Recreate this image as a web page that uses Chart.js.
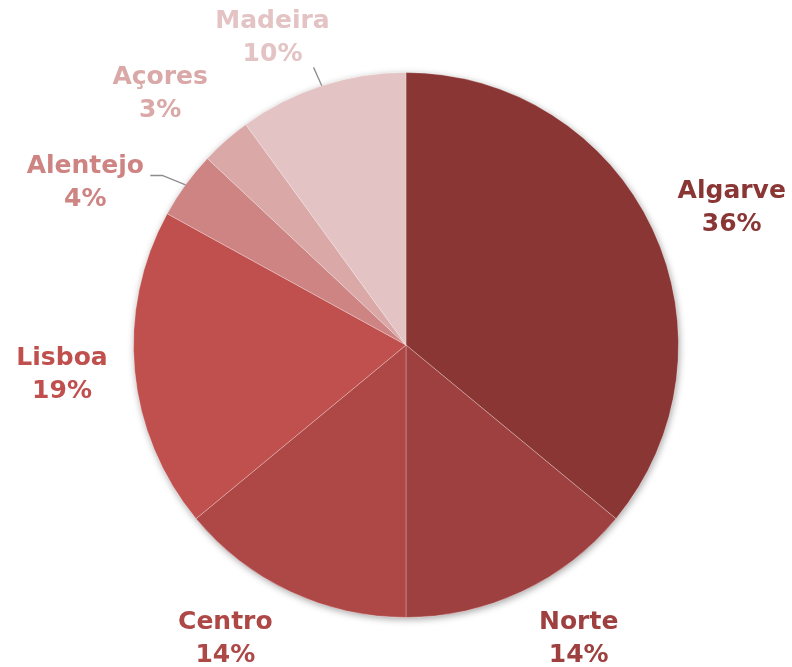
<!DOCTYPE html>
<html>
<head>
<meta charset="utf-8">
<script src="https://cdn.jsdelivr.net/npm/chart.js@4"></script>
<style>
  html, body { margin: 0; padding: 0; background: #fff; }
  #wrap { width: 792px; height: 667px; }
</style>
</head>
<body>
<div id="wrap"><canvas id="chartRegioes"></canvas></div>
<script>
// regiões e percentagens
const regioes = ["Algarve", "Norte", "Centro", "Lisboa", "Alentejo", "Açores", "Madeira"];
const percentagens = [36, 14, 14, 19, 4, 3, 10];
const cores = ["#8a3635", "#9f4040", "#ae4847", "#c0504d", "#cd8482", "#d9a8a7", "#e3c3c4"];

// pequenos ajustes dos rótulos (px) em relação à posição radial
const ajusteRotulo = [[14, 9], [26, -18], [-34, -18], [-1, -3], [-42, 40], [-18, 7], [-27, 20]];
// linhas de ligação: índice -> pontos relativos ao centro do rótulo
const linhas = {
  4: [[77, -7], [65, -7]],
  6: [[41, 30]]
};

const sombra = {
  id: "sombra",
  beforeDatasetsDraw(chart) {
    const arc = chart.getDatasetMeta(0).data[0];
    const ctx = chart.ctx;
    ctx.save();
    ctx.beginPath();
    ctx.arc(arc.x, arc.y, arc.outerRadius, 0, Math.PI * 2);
    ctx.shadowColor = "rgba(0,0,0,0.35)";
    ctx.shadowBlur = 7;
    ctx.shadowOffsetX = 1;
    ctx.shadowOffsetY = 2;
    ctx.fillStyle = "#fff";
    ctx.fill();
    ctx.restore();
  }
};

const rotulos = {
  id: "rotulos",
  afterDatasetsDraw(chart) {
    const ctx = chart.ctx;
    const meta = chart.getDatasetMeta(0);
    ctx.save();
    ctx.font = "bold 25px 'DejaVu Sans', Verdana, sans-serif";
    ctx.textAlign = "center";
    ctx.textBaseline = "middle";
    meta.data.forEach((arc, i) => {
      const mid = (arc.startAngle + arc.endAngle) / 2;
      const d = arc.outerRadius + 72;
      const lx = arc.x + Math.cos(mid) * d + ajusteRotulo[i][0];
      const ly = arc.y + Math.sin(mid) * d + ajusteRotulo[i][1];
      if (linhas[i]) {
        ctx.strokeStyle = "#8c8c8c";
        ctx.lineWidth = 1.3;
        ctx.beginPath();
        ctx.moveTo(arc.x + Math.cos(mid) * arc.outerRadius, arc.y + Math.sin(mid) * arc.outerRadius);
        linhas[i].forEach((p) => ctx.lineTo(lx + p[0], ly + p[1]));
        ctx.stroke();
      }
      ctx.fillStyle = cores[i];
      ctx.fillText(regioes[i], lx, ly - 16);
      ctx.fillText(percentagens[i] + "%", lx, ly + 17);
    });
    ctx.restore();
  }
};

const ctx = document.getElementById("chartRegioes").getContext("2d");
const myChart = new Chart(ctx, {
  type: "pie",
  data: {
    labels: regioes,
    datasets: [
      {
        data: percentagens,
        backgroundColor: cores,
        borderColor: "rgba(255,255,255,0.25)",
        borderWidth: 1,
      },
    ],
  },
  options: {
    responsive: true,
    maintainAspectRatio: false,
    animation: false,
    layout: { padding: { left: 133, right: 113, top: 72, bottom: 49 } },
    plugins: {
      legend: { display: false },
      tooltip: { enabled: false },
    },
  },
  plugins: [sombra, rotulos],
});
</script>
</body>
</html>
